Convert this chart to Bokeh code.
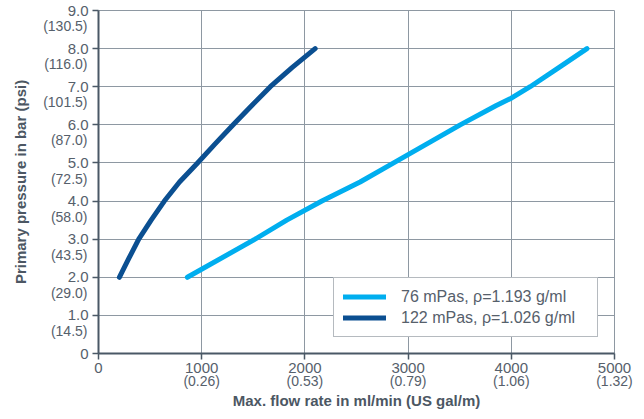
from bokeh.plotting import figure
from bokeh.models import (Legend, LegendItem, FixedTicker, Range1d, LinearAxis)
from bokeh.embed import file_html
from bokeh.resources import INLINE

# ---- data ----
x_ticks = [0, 1000, 2000, 3000, 4000, 5000]
x_tick_main = ["0", "1000", "2000", "3000", "4000", "5000"]
x_tick_sub = ["", "(0.26)", "(0.53)", "(0.79)", "(1.06)", "(1.32)"]

y_ticks = [0, 1, 2, 3, 4, 5, 6, 7, 8, 9]
y_tick_main = ["0", "1.0", "2.0", "3.0", "4.0", "5.0", "6.0", "7.0", "8.0", "9.0"]
y_tick_sub = ["", "(14.5)", "(29.0)", "(43.5)", "(58.0)", "(72.5)",
              "(87.0)", "(101.5)", "(116.0)", "(130.5)"]

flow_76 = [861, 1517, 1824, 2165, 2535, 2860, 3505, 3850, 4000, 4183, 4460, 4733]
pres_76 = [2.0, 3.0, 3.5, 4.0, 4.5, 5.0, 6.0, 6.5, 6.7, 7.0, 7.5, 8.0]

flow_122 = [202, 295, 390, 510, 638, 785, 960, 1130, 1305, 1483, 1665, 1875, 2099]
pres_122 = [2.0, 2.5, 3.0, 3.5, 4.0, 4.5, 5.0, 5.5, 6.0, 6.5, 7.0, 7.5, 8.0]

label_76 = "76 mPas, \u03c1=1.193 g/ml"
label_122 = "122 mPas, \u03c1=1.026 g/ml"

# ---- styles ----
FONT = "Liberation Sans"
TXT = "#56606b"
TITLE = "#4c5763"
AXIS = "#4a5866"
GRID = "#8e98a2"
LIGHT = "#00aeef"
DARK = "#0b4f91"

p = figure(width=636, height=411, x_range=Range1d(0, 5000), y_range=Range1d(0, 9),
           output_backend="svg", toolbar_location=None,
           min_border_left=98, min_border_right=22, min_border_top=10,
           min_border_bottom=57)
p.outline_line_color = GRID
p.outline_line_width = 1

xa = p.xaxis[0]
ya = p.yaxis[0]
xa.ticker = FixedTicker(ticks=x_ticks)
ya.ticker = FixedTicker(ticks=y_ticks)
xa.major_label_overrides = {t: s for t, s in zip(x_ticks, x_tick_main)}
ya.major_label_overrides = {t: s for t, s in zip(y_ticks, y_tick_main)}

for ax in (xa, ya):
    ax.axis_line_color = AXIS
    ax.axis_line_width = 2
    ax.major_tick_line_color = AXIS
    ax.major_tick_line_width = 1.5
    ax.major_tick_in = 0
    ax.major_tick_out = 6
    ax.minor_tick_line_color = None
    ax.major_label_text_font = FONT
    ax.major_label_text_font_size = "15px"
    ax.major_label_text_color = TXT
xa.major_label_standoff = 3
ya.major_label_standoff = 4

p.xgrid.grid_line_color = GRID
p.ygrid.grid_line_color = GRID
p.xgrid.grid_line_width = 1
p.ygrid.grid_line_width = 1

# secondary (US unit) tick labels on label-only axes
p.extra_y_ranges = {"ysub": Range1d(0.41, 9.41)}
ysub = LinearAxis(y_range_name="ysub", ticker=FixedTicker(ticks=y_ticks),
                  major_label_overrides={t: s for t, s in zip(y_ticks, y_tick_sub)})
xsub = LinearAxis(ticker=FixedTicker(ticks=x_ticks),
                  major_label_overrides={t: s for t, s in zip(x_ticks, x_tick_sub)})
for ax in (xsub, ysub):
    ax.axis_line_color = None
    ax.major_tick_line_color = None
    ax.minor_tick_line_color = None
    ax.major_tick_in = 0
    ax.major_tick_out = 0
    ax.minor_tick_in = 0
    ax.minor_tick_out = 0
    ax.major_label_text_font = FONT
    ax.major_label_text_font_size = "14px"
    ax.major_label_text_color = TXT
    ax.axis_label_text_font = FONT
    ax.axis_label_text_font_size = "15px"
    ax.axis_label_text_font_style = "bold"
    ax.axis_label_text_color = TITLE
ysub.major_label_standoff = -23
xsub.major_label_standoff = -3
xsub.axis_label = "Max. flow rate in ml/min (US gal/m)"
ysub.axis_label = "Primary pressure in bar (psi)"
xsub.axis_label_standoff = 0
ysub.axis_label_standoff = 11
p.add_layout(ysub, "left")
p.add_layout(xsub, "below")

r76 = p.line(flow_76, pres_76, line_width=5, line_color=LIGHT, line_cap="round",
             line_join="round")
r122 = p.line(flow_122, pres_122, line_width=5, line_color=DARK, line_cap="round",
              line_join="round")

legend = Legend(items=[LegendItem(label=label_76, renderers=[r76]),
                       LegendItem(label=label_122, renderers=[r122])],
                location="bottom_right", margin=16, padding=9, spacing=2,
                glyph_width=43, glyph_height=19, label_height=19, label_width=187,
                label_standoff=15, label_text_font=FONT, label_text_font_size="16px",
                label_text_color=TXT, border_line_color="#6b7580",
                border_line_width=1.5, background_fill_color="white",
                background_fill_alpha=1)
p.add_layout(legend)

open("out.html", "w").write(file_html(p, INLINE))
